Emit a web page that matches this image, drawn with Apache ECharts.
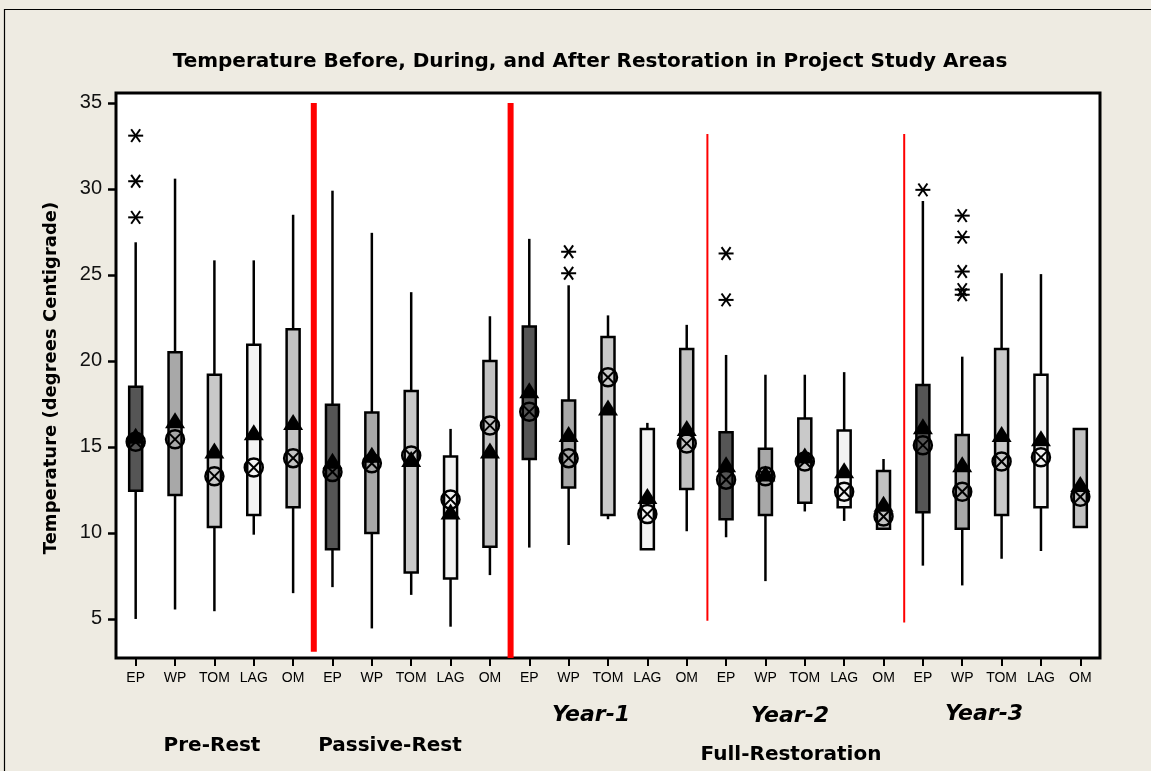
<!DOCTYPE html>
<html>
<head>
<meta charset="utf-8">
<script src="https://cdn.jsdelivr.net/npm/echarts@6/dist/echarts.min.js"></script>
<style>
html,body{margin:0;padding:0;background:#eeebe2;}
#chart{width:1151px;height:771px;}
</style>
</head>
<body>
<div id="chart"></div>
<script>
// ---------- DATA ----------
const categories = ['EP','WP','TOM','LAG','OM','EP','WP','TOM','LAG','OM','EP','WP','TOM','LAG','OM','EP','WP','TOM','LAG','OM','EP','WP','TOM','LAG','OM'];
const whiskerLow  = [5.0, 5.55, 5.45, 9.9, 6.5,   6.85, 4.45, 6.4, 4.55, 7.55,   9.15, 9.3, 10.8, 9.05, 10.1,   9.75, 7.2, 11.25, 10.7, 10.25,   8.1, 6.95, 8.5, 8.95, 10.35];
const quartile1   = [12.45, 12.2, 10.35, 11.05, 11.5,   9.05, 10.0, 7.7, 7.35, 9.2,   14.3, 12.65, 11.05, 9.05, 12.55,   10.8, 11.05, 11.75, 11.5, 10.25,   11.2, 10.25, 11.05, 11.5, 10.35];
const quartile3   = [18.5, 20.5, 19.2, 20.95, 21.85,   17.45, 17.0, 18.25, 14.45, 20.0,   22.0, 17.7, 21.4, 16.05, 20.7,   15.85, 14.9, 16.65, 15.95, 13.6,   18.6, 15.7, 20.7, 19.2, 16.05];
const whiskerHigh = [26.9, 30.6, 25.85, 25.85, 28.5,   29.9, 27.45, 24.0, 16.05, 22.6,   27.1, 24.4, 22.65, 16.4, 22.1,   20.35, 19.2, 19.2, 19.35, 14.3,   29.3, 20.25, 25.1, 25.05, 16.05];
const triangleMark = [15.65, 16.55, 14.8, 15.85, 16.45,   14.2, 14.55, 14.3, 11.25, 14.8,   18.3, 15.75, 17.3, 12.15, 16.1,   14.0, 13.45, 14.5, 13.65, 11.7,   16.2, 14.0, 15.75, 15.5, 12.85];
const circleMark   = [15.3, 15.45, 13.3, 13.8, 14.35,   13.55, 14.05, 14.5, 11.95, 16.25,   17.05, 14.35, 19.05, 11.1, 15.2,   13.1, 13.3, 14.15, 12.4, 10.95,   15.1, 12.4, 14.15, 14.4, 12.1];
const outliers = [[0,33.1],[0,30.45],[0,28.35],[11,26.35],[11,25.1],[15,26.25],[15,23.55],[20,29.95],[21,28.45],[21,27.2],[21,25.2],[21,24.15],[21,23.85]];
// separators: [after category index, bottom value, top value]
const thickSeparators = [[4, 3.1, 35],[9, 2.73, 35]];
const thinSeparators  = [[14, 4.9, 33.2],[19, 4.8, 33.2]];
const yTickValues = [5,10,15,20,25,30,35];
const yMin = 2.73, yMax = 35.58;
const title = 'Temperature Before, During, and After Restoration in Project Study Areas';
const yName = 'Temperature (degrees Centigrade)';
const yearLabels = ['Year-1','Year-2','Year-3'];
const phaseLabels = ['Pre-Rest','Passive-Rest','Full-Restoration'];

// ---------- STYLE ----------
const boxColors = {EP:'#555555', WP:'#a8a8a8', TOM:'#c9c9c9', LAG:'#f3f3f3', OM:'#c2c2c2'};
const BOX_W = 13;

const boxData = categories.map((c,i)=>[i, whiskerLow[i], quartile1[i], quartile3[i], whiskerHigh[i]]);
const triData = triangleMark.map((v,i)=>[i,v]);
const circData = circleMark.map((v,i)=>[i,v]);

function sepRender(width){
  return function(params, api){
    const i = api.value(0);
    const bw = api.size([1,0])[0];
    const a = api.coord([i, api.value(1)]);
    const b = api.coord([i, api.value(2)]);
    const x = a[0] + bw/2 + 1;
    return {type:'line', shape:{x1:x,y1:a[1],x2:x,y2:b[1]}, style:{stroke:'#ff0000', lineWidth:width}};
  };
}

const chart = echarts.init(document.getElementById('chart'));
chart.setOption({
  animation:false,
  backgroundColor:'#eeebe2',
  grid:{left:116, top:93, width:984, height:565, show:true, backgroundColor:'#ffffff', borderColor:'#000', borderWidth:3},
  xAxis:{
    type:'category', data:categories,
    axisLine:{show:false},
    axisTick:{show:true, alignWithLabel:true, interval:0, length:8, lineStyle:{color:'#000', width:2}},
    axisLabel:{interval:0, margin:13, fontFamily:'Liberation Sans Narrow, Liberation Sans', fontSize:14, color:'#000'}
  },
  yAxis:{
    type:'value', min:yMin, max:yMax,
    splitLine:{show:false},
    axisLine:{show:false},
    axisTick:{show:true, length:8, customValues:yTickValues, lineStyle:{color:'#000', width:2.5}},
    axisLabel:{margin:14, customValues:yTickValues, fontFamily:'Liberation Sans', fontSize:20, color:'#111'}
  },
  series:[
    {type:'custom', data:thickSeparators, renderItem:sepRender(6), z:1},
    {type:'custom', data:thinSeparators, renderItem:sepRender(2), z:1},
    {
      type:'custom', data:boxData, z:2,
      encode:{x:0, y:[1,2,3,4]},
      renderItem:function(params, api){
        const i = api.value(0);
        const lo = api.coord([i, api.value(1)]);
        const q1 = api.coord([i, api.value(2)]);
        const q3 = api.coord([i, api.value(3)]);
        const hi = api.coord([i, api.value(4)]);
        const x = lo[0];
        const col = boxColors[categories[i]];
        return {type:'group', children:[
          {type:'line', shape:{x1:x,y1:hi[1],x2:x,y2:q3[1]}, style:{stroke:'#000', lineWidth:2.5}},
          {type:'line', shape:{x1:x,y1:q1[1],x2:x,y2:lo[1]}, style:{stroke:'#000', lineWidth:2.5}},
          {type:'rect', shape:{x:x-BOX_W/2, y:q3[1], width:BOX_W, height:q1[1]-q3[1]}, style:{fill:col, stroke:'#000', lineWidth:2.5}}
        ]};
      }
    },
    {
      type:'scatter', data:triData, z:3, symbol:'triangle', symbolSize:[20,16],
      itemStyle:{color:'#000', opacity:1}
    },
    {
      type:'custom', data:circData, z:4,
      renderItem:function(params, api){
        const p = api.coord([api.value(0), api.value(1)]);
        const r = 9, d = r*0.68;
        return {type:'group', children:[
          {type:'circle', shape:{cx:p[0], cy:p[1], r:r}, style:{fill:'none', stroke:'#000', lineWidth:2.5}},
          {type:'line', shape:{x1:p[0]-d,y1:p[1]-d,x2:p[0]+d,y2:p[1]+d}, style:{stroke:'#000', lineWidth:2}},
          {type:'line', shape:{x1:p[0]-d,y1:p[1]+d,x2:p[0]+d,y2:p[1]-d}, style:{stroke:'#000', lineWidth:2}}
        ]};
      }
    },
    {
      type:'custom', data:outliers, z:4,
      renderItem:function(params, api){
        const p = api.coord([api.value(0), api.value(1)]);
        const r = 7.5, dx = r*0.6, dy = r*0.85;
        const s = {stroke:'#000', lineWidth:2};
        return {type:'group', children:[
          {type:'line', shape:{x1:p[0]-r,y1:p[1],x2:p[0]+r,y2:p[1]}, style:s},
          {type:'line', shape:{x1:p[0]-dx,y1:p[1]-dy,x2:p[0]+dx,y2:p[1]+dy}, style:s},
          {type:'line', shape:{x1:p[0]-dx,y1:p[1]+dy,x2:p[0]+dx,y2:p[1]-dy}, style:s}
        ]};
      }
    }
  ],
  graphic:[
    {type:'rect', shape:{x:4.5, y:9.5, width:1200, height:800}, style:{fill:'none', stroke:'#000', lineWidth:1.2}, silent:true, z:0},
    {type:'text', x:590, y:62, style:{text:title, font:'bold 20px "DejaVu Sans"', fill:'#000', textAlign:'center', textVerticalAlign:'middle'}},
    {type:'text', x:51, y:378, rotation:Math.PI/2, style:{text:yName, font:'bold 18px "DejaVu Sans"', fill:'#000', textAlign:'center', textVerticalAlign:'middle'}},
    {type:'text', x:591, y:715, style:{text:yearLabels[0], font:'italic bold 22px "DejaVu Sans"', fill:'#000', textAlign:'center', textVerticalAlign:'middle'}},
    {type:'text', x:790, y:716, style:{text:yearLabels[1], font:'italic bold 22px "DejaVu Sans"', fill:'#000', textAlign:'center', textVerticalAlign:'middle'}},
    {type:'text', x:984, y:714, style:{text:yearLabels[2], font:'italic bold 22px "DejaVu Sans"', fill:'#000', textAlign:'center', textVerticalAlign:'middle'}},
    {type:'text', x:212, y:746, style:{text:phaseLabels[0], font:'bold 20px "DejaVu Sans"', fill:'#000', textAlign:'center', textVerticalAlign:'middle'}},
    {type:'text', x:390, y:746, style:{text:phaseLabels[1], font:'bold 20px "DejaVu Sans"', fill:'#000', textAlign:'center', textVerticalAlign:'middle'}},
    {type:'text', x:791, y:755, style:{text:phaseLabels[2], font:'bold 20px "DejaVu Sans"', fill:'#000', textAlign:'center', textVerticalAlign:'middle'}}
  ]
});
</script>
</body>
</html>
